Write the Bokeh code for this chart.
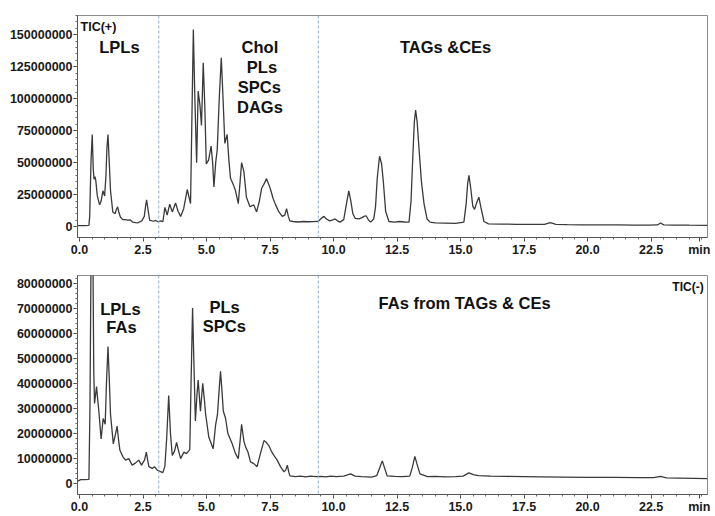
from bokeh.plotting import figure
from bokeh.models import Range1d, FixedTicker, PrintfTickFormatter, Span, Label
from bokeh.layouts import column
from bokeh.embed import file_html
from bokeh.resources import INLINE

# ---------------- data (retention time in min, TIC in millions of counts) -------------
top_time = [
    -0.08, 0.20, 0.37, 0.40, 0.45, 0.50, 0.54, 0.57, 0.61, 0.64,
    0.70, 0.79, 0.85, 0.92, 0.99, 1.04, 1.08, 1.12, 1.16, 1.22,
    1.31, 1.40, 1.46, 1.50, 1.55, 1.61, 1.70, 1.80, 1.90, 2.00,
    2.10, 2.20, 2.30, 2.45, 2.55, 2.60, 2.64, 2.69, 2.76, 2.90,
    3.00, 3.10, 3.20, 3.28, 3.36, 3.45, 3.55, 3.65, 3.78, 3.88,
    3.98, 4.10, 4.24, 4.37, 4.42, 4.48, 4.54, 4.61, 4.67, 4.74,
    4.80, 4.87, 4.93, 4.99, 5.08, 5.18, 5.24, 5.29, 5.36, 5.42,
    5.50, 5.58, 5.65, 5.72, 5.81, 5.88, 5.94, 6.05, 6.14, 6.25,
    6.32, 6.38, 6.47, 6.57, 6.71, 6.86, 6.97, 7.08, 7.17, 7.28,
    7.36, 7.45, 7.52, 7.62, 7.72, 7.85, 7.98, 8.08, 8.15, 8.22,
    8.28, 8.40, 8.60, 8.80, 9.00, 9.20, 9.40, 9.52, 9.62, 9.72,
    9.85, 10.00, 10.06, 10.15, 10.25, 10.40, 10.50, 10.60, 10.68, 10.76,
    10.85, 11.00, 11.12, 11.20, 11.28, 11.38, 11.46, 11.58, 11.65, 11.72,
    11.81, 11.89, 11.96, 12.05, 12.18, 12.40, 12.60, 12.80, 12.97, 13.05,
    13.12, 13.18, 13.23, 13.29, 13.36, 13.46, 13.56, 13.68, 13.80, 14.00,
    14.40, 14.80, 15.13, 15.22, 15.28, 15.33, 15.40, 15.48, 15.55, 15.64,
    15.72, 15.80, 15.92, 16.10, 16.60, 17.20, 17.80, 18.30, 18.54, 18.75,
    19.20, 19.80, 20.50, 21.20, 21.80, 22.40, 22.75, 22.87, 23.00, 23.40,
    24.00, 24.72,
]
top_tic_millions = [
    0.8, 0.8, 0.9, 8, 50, 72, 45, 37, 39, 36,
    24, 17, 20, 28, 24, 40, 62, 72, 55, 28,
    11.5, 10, 14, 15.5, 11, 7.5, 5.5, 5.5, 5.0, 5.2,
    3.5, 3.2, 3.0, 4.5, 8, 16, 21, 14, 5, 4.2,
    4.8, 3.8, 4.5, 3.8, 15, 9, 17.5, 11.5, 18.5, 12,
    8, 14, 29, 18, 80, 154, 100, 50, 106, 95,
    79, 128, 95, 49, 52, 63, 50, 31, 50, 60,
    100, 132, 100, 65, 72, 52, 38, 33, 28, 18,
    35, 50, 43, 23, 15.5, 17, 11.5, 20, 30, 34,
    37.5, 33, 29, 22, 17, 11.5, 8, 9, 14, 8,
    4.5, 4.0, 3.6, 4.0, 3.8, 3.9, 4.2, 6.5, 8.0, 6.0,
    4.5, 5.5, 6.0, 4.5, 3.5, 5.5, 17, 28, 20, 10,
    6.5, 6.0, 7.0, 8.0, 8.5, 5.0, 3.5, 6, 15, 38,
    55, 49, 35, 12, 4.0, 3.5, 4.0, 3.6, 3.5, 20,
    55, 82, 91, 82, 62, 35, 18, 6, 3.5, 3.0,
    2.8, 2.6, 3.5, 18, 34, 40, 30, 16, 13.5, 19,
    23, 15, 4, 2.2, 2.0, 1.8, 1.8, 1.7, 3.2, 1.8,
    1.5, 1.4, 1.3, 1.3, 1.2, 1.2, 1.3, 2.8, 1.4, 1.2,
    1.1, 1.0,
]

bottom_time = [
    -0.08, 0.05, 0.20, 0.37, 0.41, 0.46, 0.52, 0.56, 0.59, 0.67,
    0.72, 0.76, 0.85, 0.93, 1.01, 1.06, 1.12, 1.17, 1.22, 1.33,
    1.42, 1.48, 1.53, 1.59, 1.71, 1.81, 1.94, 2.07, 2.20, 2.33,
    2.44, 2.56, 2.63, 2.68, 2.73, 2.86, 2.95, 3.06, 3.19, 3.28,
    3.36, 3.43, 3.51, 3.58, 3.65, 3.74, 3.82, 3.90, 3.98, 4.11,
    4.21, 4.34, 4.39, 4.45, 4.51, 4.56, 4.62, 4.67, 4.76, 4.85,
    4.92, 4.96, 5.09, 5.26, 5.36, 5.43, 5.50, 5.55, 5.60, 5.66,
    5.75, 5.84, 6.01, 6.14, 6.25, 6.32, 6.38, 6.47, 6.54, 6.63,
    6.73, 6.86, 6.99, 7.12, 7.26, 7.35, 7.45, 7.55, 7.65, 7.78,
    7.91, 8.05, 8.12, 8.18, 8.24, 8.28, 8.50, 8.70, 8.90, 9.10,
    9.30, 9.50, 9.70, 9.90, 10.10, 10.40, 10.67, 10.85, 11.10, 11.30,
    11.50, 11.70, 11.82, 11.92, 12.00, 12.11, 12.40, 12.70, 13.00, 13.10,
    13.20, 13.28, 13.40, 13.70, 14.00, 14.40, 14.80, 15.10, 15.33, 15.50,
    15.70, 16.20, 16.80, 17.50, 18.20, 19.00, 20.00, 21.00, 22.00, 22.60,
    22.87, 23.10, 23.60, 24.20, 24.72,
]
bottom_tic_millions = [
    1.0, 1.6, 1.6, 1.7, 30, 100, 100, 45, 32, 38.7,
    33, 29, 17.8, 26, 23.7, 40, 54.7, 42, 27.6, 15.9,
    20, 23, 18, 13.3, 10.7, 9.4, 10, 7.4, 8.2, 9.4,
    7.4, 9.5, 12.6, 9.5, 6.8, 6.1, 6.8, 5.4, 4.8, 4.4,
    7, 18, 35.2, 20, 11.3, 13, 16.5, 13, 10, 12.6,
    12, 13.6, 40, 70, 45, 25, 35, 41.3, 28.9, 40,
    33, 28, 18.5, 13.9, 23.7, 27.6, 38, 44.8, 38, 28.9,
    26, 20, 15.9, 12, 10, 17, 23.7, 17, 14.6, 12.6,
    8.7, 8, 6.8, 12, 17.2, 16.5, 15.2, 13, 11.3, 9.4,
    6.8, 4.7, 5.5, 7.4, 4.5, 3.1, 2.8, 3.0, 2.7, 3.0,
    2.8, 2.9, 2.7, 3.0, 2.8, 3.0, 3.9, 3.0, 2.8, 2.7,
    2.6, 3.2, 6.5, 9.1, 6.5, 3.1, 2.9, 2.8, 3.0, 6.5,
    10.9, 8.0, 3.9, 2.8, 2.9, 2.7, 2.8, 3.0, 4.3, 3.6,
    3.2, 3.0, 2.9, 2.8, 2.7, 2.6, 2.5, 2.5, 2.4, 2.4,
    2.9, 2.3, 2.2, 2.1, 2.0,
]

x_ticks = [0.0, 2.5, 5.0, 7.5, 10.0, 12.5, 15.0, 17.5, 20.0, 22.5]
x_unit_pos = 24.4
x_unit_label = "min"
top_y_ticks = [0, 25000000, 50000000, 75000000, 100000000, 125000000, 150000000]
bottom_y_ticks = [0, 10000000, 20000000, 30000000, 40000000, 50000000, 60000000, 70000000, 80000000]
region_bounds = [3.12, 9.4]

assert len(top_time) == len(top_tic_millions)
assert len(bottom_time) == len(bottom_tic_millions)

FONT = "Liberation Sans"
LINE = "#3a3a3a"


def make_fig(height, b_top, b_bottom, y_lo, y_hi, y_ticks, y_minor_step):
    p = figure(width=715, height=height, output_backend="svg", toolbar_location=None,
               x_range=Range1d(-0.08, 24.72), y_range=Range1d(y_lo, y_hi),
               min_border_left=77, min_border_right=8,
               min_border_top=b_top, min_border_bottom=b_bottom)
    p.grid.visible = False
    p.outline_line_color = "#8c8c8c"
    p.outline_line_width = 1
    minor_x = [i * 0.5 for i in range(0, 50)]
    p.xaxis.ticker = FixedTicker(ticks=x_ticks + [x_unit_pos], minor_ticks=minor_x)
    p.xaxis.formatter = PrintfTickFormatter(format="%.1f")
    p.xaxis.major_label_overrides = {x_unit_pos: x_unit_label}
    minor_y = [i * y_minor_step for i in range(0, int(y_hi // y_minor_step) + 1)]
    p.yaxis.ticker = FixedTicker(ticks=y_ticks, minor_ticks=minor_y)
    p.yaxis.formatter = PrintfTickFormatter(format="%d")
    for ax in (p.xaxis, p.yaxis):
        ax.axis_line_color = "#555555"
        ax.major_tick_line_color = "#444444"
        ax.minor_tick_line_color = "#666666"
        ax.major_tick_in = 0
        ax.major_tick_out = 4
        ax.minor_tick_in = 0
        ax.minor_tick_out = 2
        ax.major_label_text_font = FONT
        ax.major_label_text_font_style = "bold"
        ax.major_label_text_font_size = "12.5px"
        ax.major_label_text_color = "#1a1a1a"
        ax.major_label_standoff = 1
    for b in region_bounds:
        p.add_layout(Span(location=b, dimension="height", line_color="#8fb0d0",
                          line_width=1, line_dash="3 2"))
    return p


def add_text(p, x, y, text, size="16.5px", align="center"):
    p.add_layout(Label(x=x, y=y, text=text, text_font=FONT, text_font_style="bold",
                       text_font_size=size, text_align=align, text_baseline="middle",
                       text_color="#111111"))


# ---------------- top: TIC(+) ----------------
p1 = make_fig(260, 15, 23, -8.5e6, 165e6, top_y_ticks, 5e6)
p1.line(top_time, [v * 1e6 for v in top_tic_millions], line_color=LINE, line_width=1.3)
add_text(p1, 0.04, 155.9e6, "TIC(+)", size="12.5px", align="left")
add_text(p1, 1.57, 140.6e6, "LPLs")
add_text(p1, 7.1, 140.3e6, "Chol")
add_text(p1, 7.18, 124.7e6, "PLs")
add_text(p1, 7.08, 108.9e6, "SPCs")
add_text(p1, 7.1, 93.5e6, "DAGs")
add_text(p1, 14.41, 140.6e6, "TAGs &CEs")

# ---------------- bottom: TIC(-) ----------------
p2 = make_fig(256, 15, 18, -4.3e6, 83e6, bottom_y_ticks, 2e6)
p2.line(bottom_time, [v * 1e6 for v in bottom_tic_millions], line_color=LINE, line_width=1.3)
add_text(p2, 24.57, 78.4e6, "TIC(-)", size="12px", align="right")
add_text(p2, 1.61, 69.7e6, "LPLs")
add_text(p2, 1.65, 62.5e6, "FAs")
add_text(p2, 5.71, 70.6e6, "PLs")
add_text(p2, 5.70, 62.8e6, "SPCs")
add_text(p2, 15.16, 72.0e6, "FAs from TAGs & CEs")

layout = column(p1, p2, spacing=0)

with open("out.html", "w") as f:
    f.write(file_html(layout, INLINE))
